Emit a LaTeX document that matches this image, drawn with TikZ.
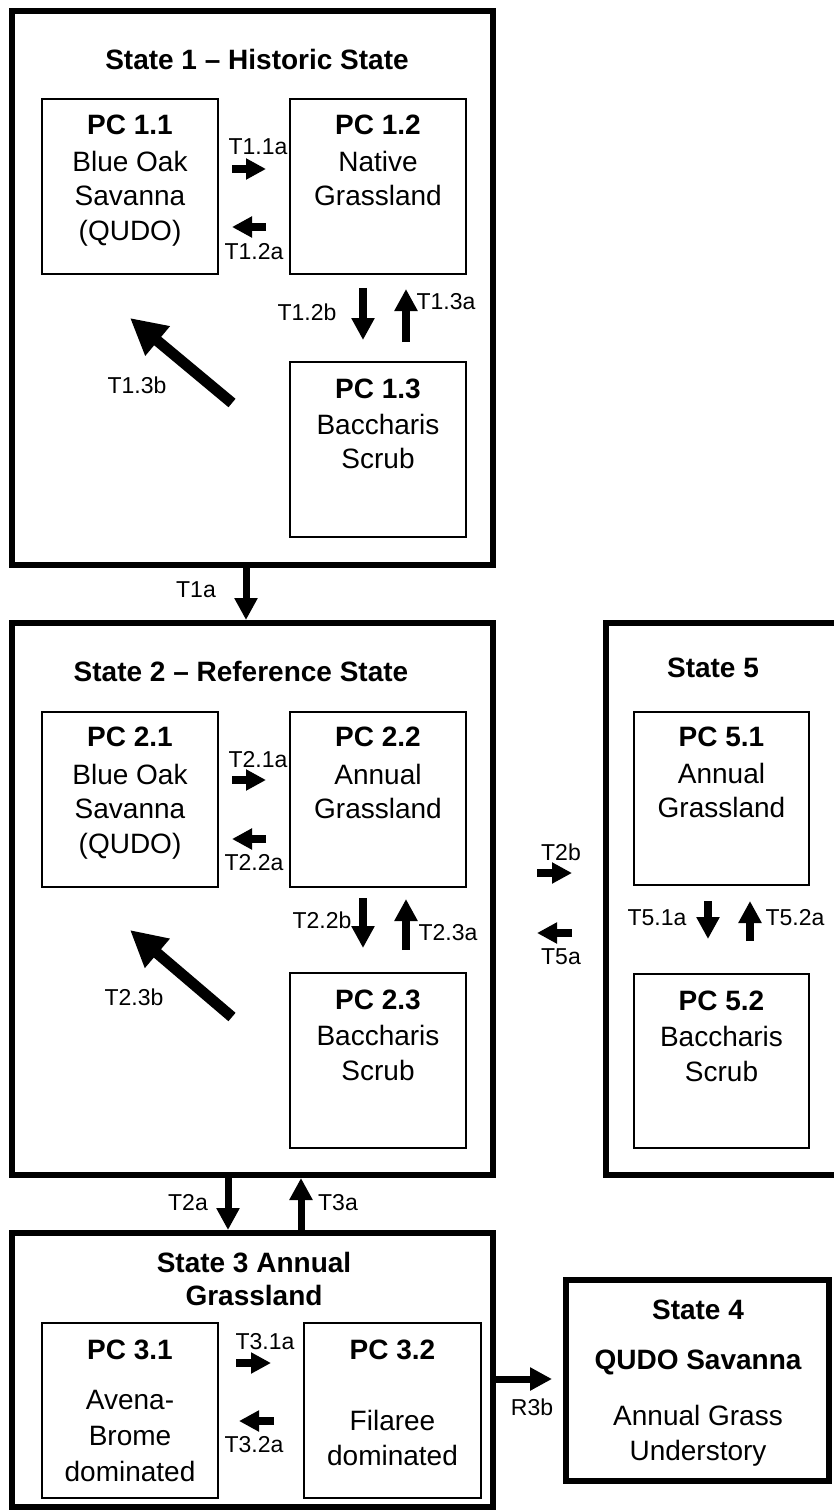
\documentclass[tikz,border=0pt]{standalone}
\usepackage{fontspec}
\setmainfont{Liberation Sans}
\usetikzlibrary{arrows.meta,calc}
\tikzset{
  statebox/.style={draw, line width=6pt, anchor=north west, inner sep=0pt, outer sep=0pt},
  pcbox/.style={draw, line width=1.3pt, anchor=north west, inner sep=0pt, outer sep=0pt, minimum width=176pt, minimum height=175pt},
  ttl/.style={font=\fontsize{28}{33}\selectfont\bfseries, inner sep=0pt, align=center},
  body/.style={font=\fontsize{28}{34.5}\selectfont, inner sep=0pt, align=center, anchor=north},
  bodyb/.style={font=\fontsize{28}{36}\selectfont, inner sep=0pt, align=center, anchor=north},
  lab/.style={font=\fontsize{23}{26}\selectfont, inner sep=0pt},
  harr/.style={line width=8pt, -{Triangle[length=20pt,width=20pt]}},
  varr/.style={line width=7.5pt, -{Triangle[length=22pt,width=22pt]}},
  sarr/.style={line width=7pt, -{Triangle[length=22pt,width=22pt]}},
  darr/.style={line width=11pt, -{Triangle[length=36pt,width=36pt]}},
}
\begin{document}
\begin{tikzpicture}[x=1pt,y=-1pt]
\fill[white] (0,0) rectangle (833,1511);
\useasboundingbox (0,0) rectangle (833,1511);

% ---------- State boxes ----------
\node[statebox, minimum width=481pt, minimum height=554pt] (s1) at (12,11) {};
\node[statebox, minimum width=481pt, minimum height=552pt] (s2) at (12,623) {};
\node[statebox, minimum width=481pt, minimum height=274pt] (s3) at (12,1233) {};
\node[statebox, minimum width=263pt, minimum height=201pt] (s4) at (566,1280) {};
\node[statebox, minimum width=234pt, minimum height=552pt] (s5) at (606,623) {};

% ---------- State titles ----------
\node[ttl] (s1t) at (257,59) {State 1 -- Historic State};
\node[ttl] (s2t) at (241,671) {State 2 -- Reference State};
\node[ttl, anchor=north] (s3t) at (254,1252) {State 3 Annual\\Grassland};
\node[ttl] (s5t) at (713,668) {State 5};
\node[ttl] (s4t) at (698,1310) {State 4};
\node[ttl] (s4q) at (698,1362) {QUDO Savanna};
\node[body] (s4b) at (698,1405) {Annual Grass\\Understory};

% ---------- PC boxes ----------
\node[pcbox] (pc11) at (42,99) {};
\node[pcbox] (pc12) at (290,99) {};
\node[pcbox] (pc13) at (290,362) {};
\node[pcbox] (pc21) at (42,712) {};
\node[pcbox] (pc22) at (290,712) {};
\node[pcbox] (pc23) at (290,973) {};
\node[pcbox, minimum width=175pt, minimum height=173pt] (pc51) at (634,712) {};
\node[pcbox, minimum width=175pt, minimum height=174pt] (pc52) at (634,974) {};
\node[pcbox] (pc31) at (42,1323) {};
\node[pcbox, minimum width=177pt] (pc32) at (304,1323) {};

% ---------- PC texts ----------
\node[ttl, anchor=north] (pc11t) at ($(pc11.north)+(0,16)$) {PC 1.1};
\node[body] (pc11b) at ($(pc11.north)+(0,52)$) {Blue Oak\\Savanna\\(QUDO)};
\node[ttl, anchor=north] (pc12t) at ($(pc12.north)+(0,16)$) {PC 1.2};
\node[body] (pc12b) at ($(pc12.north)+(0,52)$) {Native\\Grassland};
\node[ttl, anchor=north] (pc13t) at ($(pc13.north)+(0,17)$) {PC 1.3};
\node[body] (pc13b) at ($(pc13.north)+(0,52)$) {Baccharis\\Scrub};

\node[ttl, anchor=north] (pc21t) at ($(pc21.north)+(0,15)$) {PC 2.1};
\node[body] (pc21b) at ($(pc21.north)+(0,52)$) {Blue Oak\\Savanna\\(QUDO)};
\node[ttl, anchor=north] (pc22t) at ($(pc22.north)+(0,15)$) {PC 2.2};
\node[body] (pc22b) at ($(pc22.north)+(0,52)$) {Annual\\Grassland};
\node[ttl, anchor=north] (pc23t) at ($(pc23.north)+(0,17)$) {PC 2.3};
\node[body] (pc23b) at ($(pc23.north)+(0,52)$) {Baccharis\\Scrub};

\node[ttl, anchor=north] (pc51t) at ($(pc51.north)+(0,15)$) {PC 5.1};
\node[body] (pc51b) at ($(pc51.north)+(0,51)$) {Annual\\Grassland};
\node[ttl, anchor=north] (pc52t) at ($(pc52.north)+(0,17)$) {PC 5.2};
\node[body] (pc52b) at ($(pc52.north)+(0,52)$) {Baccharis\\Scrub};

\node[ttl, anchor=north] (pc31t) at ($(pc31.north)+(0,17)$) {PC 3.1};
\node[bodyb] (pc31b) at ($(pc31.north)+(0,67)$) {Avena-\\Brome\\dominated};
\node[ttl, anchor=north] (pc32t) at ($(pc32.north)+(0,17)$) {PC 3.2};
\node[body] (pc32b) at ($(pc32.north)+(0,87)$) {Filaree\\dominated};

% ---------- Arrow end points ----------
\coordinate (a11s) at (232,169);  \coordinate (a11e) at (266,169);
\coordinate (a12s) at (266,227);  \coordinate (a12e) at (232,227);
\coordinate (b12s) at (363,288);  \coordinate (b12e) at (363,340);
\coordinate (b13s) at (406,342);  \coordinate (b13e) at (406,289);
\coordinate (d13s) at (232,403);  \coordinate (d13e) at (130,318);
\coordinate (t1as) at (246,565);  \coordinate (t1ae) at (246,620);

\coordinate (a21s) at (232,780);  \coordinate (a21e) at (266,780);
\coordinate (a22s) at (266,839);  \coordinate (a22e) at (232,839);
\coordinate (b22s) at (363,898);  \coordinate (b22e) at (363,948);
\coordinate (b23s) at (406,950);  \coordinate (b23e) at (406,899);
\coordinate (d23s) at (232,1017); \coordinate (d23e) at (130,930);

\coordinate (t2bs) at (537,873);  \coordinate (t2be) at (572,873);
\coordinate (t5as) at (572,933);  \coordinate (t5ae) at (537,933);
\coordinate (b51s) at (708,901);  \coordinate (b51e) at (708,939);
\coordinate (b52s) at (750,941);  \coordinate (b52e) at (750,901);

\coordinate (t2as) at (228,1175); \coordinate (t2ae) at (228,1230);
\coordinate (t3as) at (301,1233); \coordinate (t3ae) at (301,1178);

\coordinate (a31s) at (236,1363); \coordinate (a31e) at (271,1363);
\coordinate (a32s) at (274,1421); \coordinate (a32e) at (239,1421);
\coordinate (r3bs) at (496,1379); \coordinate (r3be) at (552,1379);

% ---------- Arrows ----------
\draw[harr] (a11s) -- (a11e);
\draw[harr] (a12s) -- (a12e);
\draw[varr] (b12s) -- (b12e);
\draw[varr] (b13s) -- (b13e);
\draw[darr] (d13s) -- (d13e);
\draw[sarr] (t1as) -- (t1ae);

\draw[harr] (a21s) -- (a21e);
\draw[harr] (a22s) -- (a22e);
\draw[varr] (b22s) -- (b22e);
\draw[varr] (b23s) -- (b23e);
\draw[darr] (d23s) -- (d23e);

\draw[harr] (t2bs) -- (t2be);
\draw[harr] (t5as) -- (t5ae);
\draw[varr] (b51s) -- (b51e);
\draw[varr] (b52s) -- (b52e);

\draw[sarr] (t2as) -- (t2ae);
\draw[sarr] (t3as) -- (t3ae);

\draw[harr] (a31s) -- (a31e);
\draw[harr] (a32s) -- (a32e);
\draw[sarr] (r3bs) -- (r3be);

% ---------- Labels ----------
\node[lab] (l11a) at (258,147) {T1.1a};
\node[lab] (l12a) at (254,252) {T1.2a};
\node[lab] (l12b) at (307,312) {T1.2b};
\node[lab] (l13a) at (446,302) {T1.3a};
\node[lab] (l13b) at (137,385) {T1.3b};
\node[lab] (l1a)  at (196,590) {T1a};

\node[lab] (l21a) at (258,760) {T2.1a};
\node[lab] (l22a) at (254,863) {T2.2a};
\node[lab] (l22b) at (322,920) {T2.2b};
\node[lab] (l23a) at (448,933) {T2.3a};
\node[lab] (l23b) at (134,997) {T2.3b};

\node[lab] (l2b)  at (561,852) {T2b};
\node[lab] (l5a)  at (561,957) {T5a};
\node[lab] (l51a) at (657,918) {T5.1a};
\node[lab] (l52a) at (795,918) {T5.2a};

\node[lab] (l2a)  at (188,1203) {T2a};
\node[lab] (l3a)  at (338,1203) {T3a};
\node[lab] (l31a) at (265,1342) {T3.1a};
\node[lab] (l32a) at (254,1445) {T3.2a};
\node[lab] (lr3b) at (532,1407) {R3b};
\end{tikzpicture}
\end{document}
